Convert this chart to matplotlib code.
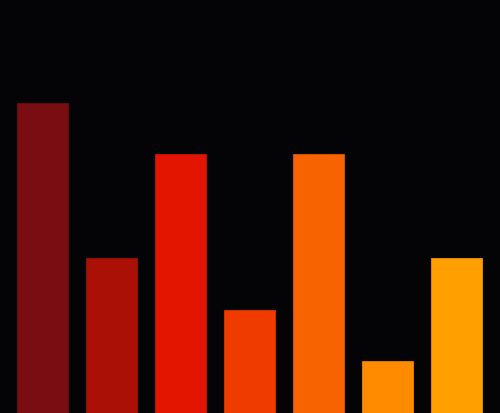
import matplotlib
matplotlib.use("Agg")
import matplotlib.pyplot as plt

# bar values
labels = ["A", "B", "C", "D", "E", "F", "G"]
values = [6, 3, 5, 2, 5, 1, 3]
colors = ["#7a0d11", "#ab1006", "#e31400", "#ef3b00", "#f76300", "#ff8b00", "#ffa000"]
edges = ["#6a0a0e", "#9a0d05", "#cc1200", "#d83400", "#e05800", "#ee7e00", "#ee9000"]

fig = plt.figure(figsize=(5.0, 4.14), dpi=100)
fig.patch.set_facecolor("#040305")
ax = fig.add_axes([7.8 / 500, 0, 483 / 500, 1])
ax.set_facecolor("#040305")

ax.bar(range(len(values)), values, width=0.74, color=colors, edgecolor=edges, linewidth=0.6)
ax.set_xlim(-0.5, len(values) - 0.5)
ax.set_ylim(0, 8)
ax.axis("off")

fig.savefig("out.png", dpi=100, facecolor=fig.get_facecolor())
